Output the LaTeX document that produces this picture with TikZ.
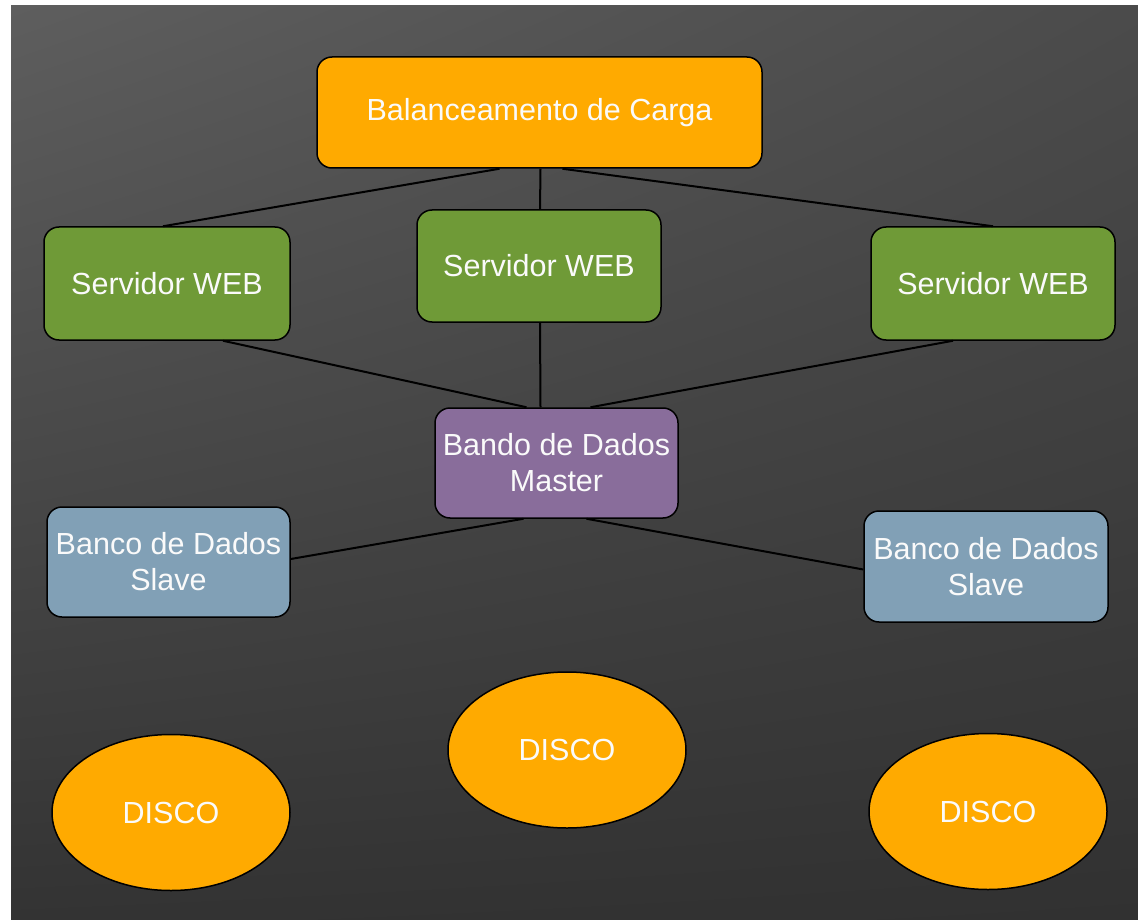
\documentclass[tikz,border=0pt]{standalone}
\usepackage{fontspec}
\setmainfont{Liberation Sans}
\usetikzlibrary{shapes.geometric,calc,shadings}
\definecolor{bgTL}{HTML}{5E5E5E}
\definecolor{bgTR}{HTML}{4B4B4B}
\definecolor{bgBL}{HTML}{333333}
\definecolor{bgBR}{HTML}{313131}
\definecolor{orangeF}{HTML}{FFAA00}
\definecolor{greenF}{HTML}{6F9A37}
\definecolor{purpleF}{HTML}{896D9B}
\definecolor{slateF}{HTML}{81A0B6}
\definecolor{txt}{HTML}{FAFAFA}
\tikzset{
  box/.style={rectangle, rounded corners=15pt, draw=black, line width=1.5pt,
    text=txt, align=center, inner sep=0pt,
    font=\fontsize{30.5}{36}\selectfont},
  disk/.style={ellipse, draw=black, line width=1.5pt, fill=orangeF,
    text=txt, inner sep=0pt, minimum width=238pt, minimum height=156pt,
    font=\fontsize{30.5}{36}\selectfont},
  conn/.style={draw=black, line width=2pt}
}
\begin{document}
\begin{tikzpicture}[x=1pt,y=-1pt]
\useasboundingbox (0,0) rectangle (1138,920);
\fill[white] (0,0) rectangle (1138,920);
\shade[upper left=bgTL, upper right=bgTR, lower left=bgBL, lower right=bgBR] (11,6) rectangle (1138,920);

\node[box, fill=orangeF, minimum width=445pt, minimum height=111pt] (lb) at (539.5,112.5) {Balanceamento de Carga};
\node[box, fill=greenF, minimum width=246pt, minimum height=113pt] (w1) at (167,283.5) {Servidor WEB};
\node[box, fill=greenF, minimum width=244pt, minimum height=112pt] (w2) at (539,266) {Servidor WEB};
\node[box, fill=greenF, minimum width=244pt, minimum height=113pt] (w3) at (993,283.5) {Servidor WEB};
\node[box, fill=purpleF, minimum width=243pt, minimum height=110pt] (m) at (556.5,463) {Bando de Dados\\Master};
\node[box, fill=slateF, minimum width=243pt, minimum height=110pt] (s1) at (168.5,562) {Banco de Dados\\Slave};
\node[box, fill=slateF, minimum width=244pt, minimum height=111pt] (s2) at (986,566.5) {Banco de Dados\\Slave};

\node[disk] (d2) at (567,750) {DISCO};
\node[disk] (d1) at (171,812.5) {DISCO};
\node[disk] (d3) at (988,811.5) {DISCO};

\draw[conn] ($(lb.south)+(-40,0)$) -- ($(w1.north)+(-4,0)$);
\draw[conn] ($(lb.south)+(1,0)$) -- ($(w2.north)+(1,0)$);
\draw[conn] ($(lb.south)+(23,0)$) -- (w3.north);
\draw[conn] ($(w1.south)+(56,0)$) -- ($(m.north)+(-30,0)$);
\draw[conn] ($(w2.south)+(1,0)$) -- ($(m.north)+(-16,0)$);
\draw[conn] ($(w3.south)+(-40,0)$) -- ($(m.north)+(34,0)$);
\draw[conn] ($(m.south)+(-33,0)$) -- ($(s1.east)+(0,-3)$);
\draw[conn] ($(m.south)+(30,0)$) -- ($(s2.west)+(0,3)$);
\end{tikzpicture}
\end{document}
